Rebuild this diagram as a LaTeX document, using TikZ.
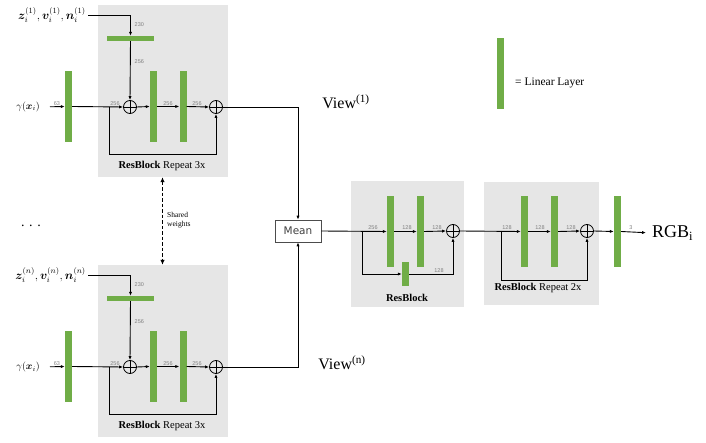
\documentclass[tikz,border=0pt]{standalone}
\usepackage{amsmath,bm}
\usepackage{fontspec}
\setmainfont{Liberation Serif}
\newfontfamily\labfont{Liberation Sans}
\newfontfamily\meanfont{DejaVu Sans}
\usetikzlibrary{arrows.meta,calc}
\definecolor{lingreen}{HTML}{70AD47}
\definecolor{boxgray}{HTML}{E6E6E6}
\definecolor{labgray}{HTML}{808080}
\tikzset{
  lin/.style={fill=lingreen,draw=none,inner sep=0pt,minimum width=7pt,minimum height=71pt},
  hlin/.style={fill=lingreen,draw=none,inner sep=0pt,minimum width=47pt,minimum height=5pt},
  graybox/.style={fill=boxgray,draw=none,inner sep=0pt},
  addnode/.style={circle,draw,line width=0.8pt,inner sep=0pt,minimum size=13pt,
    path picture={\draw[line width=0.7pt] (path picture bounding box.north) -- (path picture bounding box.south)
      (path picture bounding box.west) -- (path picture bounding box.east);}},
  conn/.style={line width=0.9pt,-{Latex[length=4pt,width=3.2pt]}},
  dim/.style={font=\labfont\fontsize{5.5}{6}\selectfont,text=labgray,inner sep=0.5pt,anchor=south},
  title/.style={font=\fontsize{10.5}{12}\selectfont},
}
\newcommand{\featblock}[3]{%
 \begin{scope}[shift={(0,#2)}]
  \node[graybox,minimum width=130pt,minimum height=172pt] (box#1) at (162.5,91) {};
  \node[anchor=east,inner sep=2pt,font=\fontsize{11.5}{13}\selectfont] (zt#1) at (88,15)
     {$\bm{z}_i^{(#3)}, \bm{v}_i^{(#3)}, \bm{n}_i^{(#3)}$};
  \node[hlin] (hb#1) at (130.5,38.5) {};
  \node[addnode] (ca#1) at (130,107) {};
  \node[anchor=east,inner sep=0pt,font=\fontsize{10}{12}\selectfont] (gm#1) at (40,107) {$\gamma(\bm{x}_i)$};
  \node[lin] (b0#1) at (68.5,106.5) {};
  \node[lin] (b1#1) at (153.5,106.5) {};
  \node[lin] (b2#1) at (183,106.5) {};
  \node[addnode] (cb#1) at (216,107) {};
  \coordinate (br#1) at (109,107);
  \coordinate (bd#1) at (109,154);
  \draw[conn] (zt#1.east) -| (hb#1.north);
  \draw[conn] (hb#1.south) -- (ca#1.north);
  \draw[conn,shorten <=10pt] (gm#1.east) -- (b0#1.west);
  \draw[conn] (b0#1.east) -- (ca#1.west);
  \draw[conn] (ca#1.east) -- (b1#1.west);
  \draw[conn] (b1#1.east) -- (b2#1.west);
  \draw[conn] (b2#1.east) -- (cb#1.west);
  \draw[conn] (br#1) -- (bd#1) -| (cb#1.south);
  \node[dim,anchor=west] at (134,25) {230};
  \node[dim,anchor=west] at (134,62) {256};
  \node[dim] at (57,106) {63};
  \node[dim] at (115,106) {256};
  \node[dim] at (168,106) {256};
  \node[dim] at (197,106) {256};
  \node[title] (tl#1) at (162,166) {\textbf{ResBlock} Repeat 3x};
 \end{scope}}
\begin{document}
\begin{tikzpicture}[x=1pt,y=-1pt]
\useasboundingbox (0,0) rectangle (706,443);
\featblock{a}{0}{1}
\featblock{b}{260}{n}
% mean
\node[draw=black!70,line width=0.7pt,minimum width=46pt,minimum height=22pt,inner sep=0pt,
  font=\meanfont\fontsize{10.5}{12}\selectfont,text=black!75] (mean) at (298,231) {Mean};
\draw[conn] (cba.east) -| (mean.north);
\draw[conn] (cbb.east) -| (mean.south);
\node[font=\fontsize{16}{18}\selectfont] (v1) at (346,102) {View$^{\text{(1)}}$};
\node[font=\fontsize{16}{18}\selectfont] (vn) at (342,363) {View$^{\text{(n)}}$};
% shared weights
\draw[line width=1.5pt,dash pattern=on 3.5pt off 2pt,{Latex[length=5pt,width=4.5pt]}-{Latex[length=5pt,width=4.5pt]}] (boxa.south) -- (boxb.north);
\node[anchor=west,align=left,font=\fontsize{7.5}{9}\selectfont,inner sep=0pt] (sw) at (167,220) {Shared\\weights};
\node[font=\fontsize{14}{16}\selectfont] (dots) at (31,226) {.\,\,.\,\,.};
% middle resblock
\node[graybox,minimum width=113pt,minimum height=126pt] (boxm) at (407.5,244) {};
\node[lin] (m1) at (390.5,231.5) {};
\node[lin] (m2) at (420.5,231.5) {};
\node[lin,minimum height=24pt] (ms) at (405.5,274) {};
\node[addnode] (cm) at (453,231) {};
\coordinate (brm) at (362,231);
\coordinate (bdm) at (362,274);
\draw[conn] (mean.east) -- (m1.west);
\draw[conn] (m1.east) -- (m2.west);
\draw[conn] (m2.east) -- (cm.west);
\draw[conn] (brm) -- (bdm) -- (ms.west);
\draw[conn] (ms.east) -| (cm.south);
\node[dim] at (373,230) {256};
\node[dim] at (407,230) {128};
\node[dim] at (437,230) {128};
\node[dim] at (439,273) {128};
\node[title] (tm) at (407,298) {\textbf{ResBlock}};
% right resblock
\node[graybox,minimum width=115pt,minimum height=123pt] (boxr) at (541.5,243.5) {};
\node[lin] (r1) at (524.5,231.5) {};
\node[lin] (r2) at (554.5,231.5) {};
\node[addnode] (cr) at (587,231) {};
\coordinate (brr) at (501,231);
\coordinate (bdr) at (501,280);
\draw[conn] (cm.east) -- (r1.west);
\draw[conn] (r1.east) -- (r2.west);
\draw[conn] (r2.east) -- (cr.west);
\draw[conn] (brr) -- (bdr) -| (cr.south);
\node[dim] at (507,230) {128};
\node[dim] at (540,230) {128};
\node[dim] at (571,230) {128};
\node[title] (tr) at (538,288) {\textbf{ResBlock} Repeat 2x};
% output
\node[lin] (r3) at (617.5,231.5) {};
\node[anchor=west,inner sep=0pt,font=\fontsize{18}{20}\selectfont] (rgb) at (652,233) {RGB\textsubscript{i}};
\draw[conn] (cr.east) -- (r3.west);
\draw[conn,shorten >=6pt] (r3.east) -- (rgb.west);
\node[dim] at (631,230) {3};
% legend
\node[lin] (lg) at (500.5,73.5) {};
\node[anchor=west,inner sep=0pt,font=\fontsize{11.5}{13}\selectfont] (lgt) at (515,83) {= Linear Layer};
\end{tikzpicture}
\end{document}
